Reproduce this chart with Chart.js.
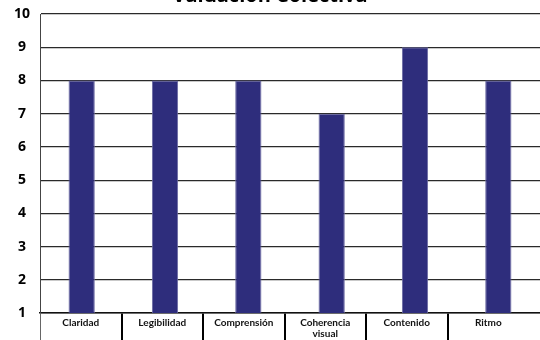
<!DOCTYPE html>
<html>
<head>
<meta charset="utf-8">
<script src="https://cdn.jsdelivr.net/npm/chart.js@4"></script>
<style>
	html, body { margin: 0; padding: 0; background: #fff; overflow: hidden; }
	#wrap { position: absolute; left: 0; top: -21px; width: 540px; height: 361px; }
</style>
</head>
<body>
<div id="wrap"><canvas id="valuacion"></canvas></div>
<script>
const categories = ["Claridad", "Legibilidad", "Comprensión", ["Coherencia", "visual"], "Contenido", "Ritmo"];
const scores = [8, 8, 8, 7, 9, 8];
const yMin = 1;
const yMax = 10;

const barColor = "#2E2D7C";
const cellWidth = 81.5; // width of one label cell under the axis
const plotWidth = 500;

const canvas = document.getElementById("valuacion");
const chart = new Chart(canvas, {
	type: "bar",
	data: {
		labels: categories,
		datasets: [
			{
				label: "Valuación",
				data: scores,
				backgroundColor: barColor,
				borderColor: "#6B6AA3",
				borderWidth: 1,
				categoryPercentage: 1,
				barPercentage: 0.315,
			},
		],
	},
	options: {
		responsive: true,
		maintainAspectRatio: false,
		animation: false,
		layout: {
			padding: 0,
		},
		scales: {
			x: {
				display: false,
				offset: true,
			},
			// label row: one cell per category, separators between cells
			x2: {
				type: "linear",
				position: "bottom",
				bounds: "data",
				offset: false,
				min: -0.5,
				max: -0.5 + plotWidth / cellWidth,
				afterBuildTicks: (scale) => {
					scale.ticks = categories.map((c, i) => ({ value: i - 0.5 }));
				},
				afterFit: (scale) => {
					scale.height = 27;
				},
				border: {
					display: true,
					color: "#111",
					width: 1.5,
				},
				grid: {
					offset: false,
					drawOnChartArea: false,
					drawTicks: true,
					tickLength: 30,
					color: (ctx) => (ctx.index === 0 ? "#666" : "#000"),
					lineWidth: (ctx) => (ctx.index === 0 ? 1 : 2),
				},
				ticks: {
					autoSkip: false,
					maxRotation: 0,
					minRotation: 0,
					padding: -26,
					labelOffset: cellWidth / 2,
					color: "#111",
					font: { family: "Lato", size: 10, weight: "bold", lineHeight: 1.1 },
					callback: (value, index) => categories[index],
				},
			},
			y: {
				min: yMin,
				max: yMax,
				afterFit: (scale) => {
					scale.width = 40;
				},
				border: {
					display: true,
					color: "#444",
					width: 1,
				},
				grid: {
					drawTicks: false,
					color: "#2a2a2a",
					lineWidth: 1.2,
				},
				ticks: {
					stepSize: 1,
					padding: 10,
					crossAlign: "center",
					color: "#000",
					font: { family: "'Open Sans'", size: 14, weight: "bold" },
				},
			},
		},
		plugins: {
			legend: { display: false },
			tooltip: { enabled: false },
			title: {
				display: true,
				text: "Valuación Colectiva",
				color: "#000",
				font: { family: "'Open Sans'", size: 20, weight: "bold" },
				padding: { top: 5, bottom: 6 },
			},
		},
	},
});
</script>
</body>
</html>
